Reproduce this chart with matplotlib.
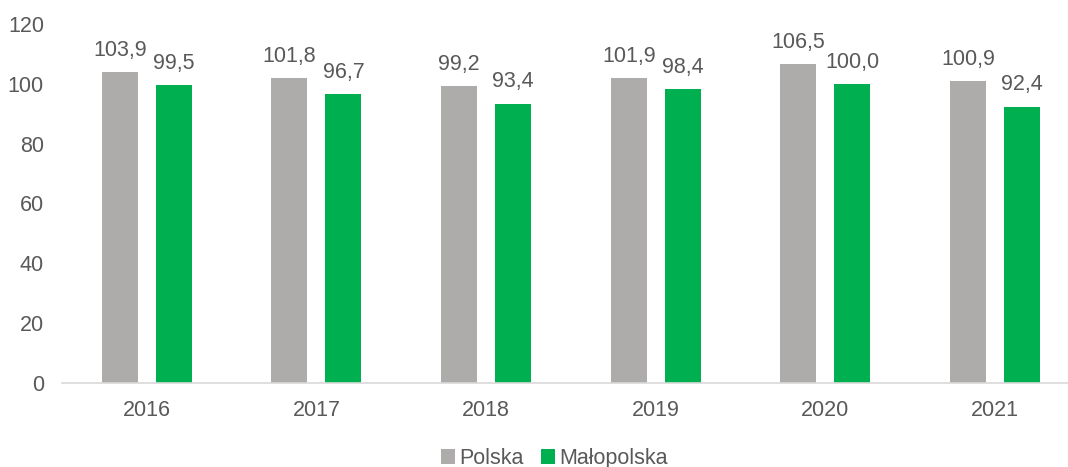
import matplotlib.pyplot as plt
import numpy as np

plt.rcParams["font.family"] = ["Liberation Sans", "DejaVu Sans"]

years = ["2016", "2017", "2018", "2019", "2020", "2021"]
polska = [103.9, 101.8, 99.2, 101.9, 106.5, 100.9]
malopolska = [99.5, 96.7, 93.4, 98.4, 100.0, 92.4]

GRAY = "#AEABAB"
GREEN = "#00B050"
TEXT = "#595959"
FS = 15.5

fig = plt.figure(figsize=(10.68, 4.67), dpi=100)
ax = fig.add_axes([0.058, 0.180, 0.942, 0.7686])

x = np.arange(len(years))
width = 0.212
offset = 0.159

bars_pl = ax.bar(x - offset, polska, width, color=GRAY, label="Polska")
bars_mp = ax.bar(x + offset, malopolska, width, color=GREEN, label="Małopolska")

for bars in (bars_pl, bars_mp):
    for b in bars:
        val = b.get_height()
        ax.annotate(
            f"{val:.1f}".replace(".", ","),
            xy=(b.get_x() + b.get_width() / 2, val),
            xytext=(0, 8),
            textcoords="offset points",
            ha="center",
            va="bottom",
            fontsize=FS,
            color=TEXT,
        )

ax.set_ylim(0, 120)
ax.set_yticks(range(0, 121, 20))
ax.set_xlim(-0.5, 5.43)
ax.set_xticks(x)
ax.set_xticklabels(years)
ax.tick_params(axis="both", length=0, labelsize=FS, colors=TEXT)
ax.tick_params(axis="x", pad=12)
ax.tick_params(axis="y", pad=13)

for side in ("top", "right", "left"):
    ax.spines[side].set_visible(False)
ax.spines["bottom"].set_color("#D9D9D9")
ax.spines["bottom"].set_linewidth(1.2)

fig.legend(
    loc="lower center",
    bbox_to_anchor=(0.519, -0.046),
    ncol=2,
    frameon=False,
    fontsize=FS,
    labelcolor=TEXT,
    handlelength=0.65,
    handleheight=0.65,
    handletextpad=0.2,
    columnspacing=0.8,
)

fig.savefig("out.png", dpi=100)
